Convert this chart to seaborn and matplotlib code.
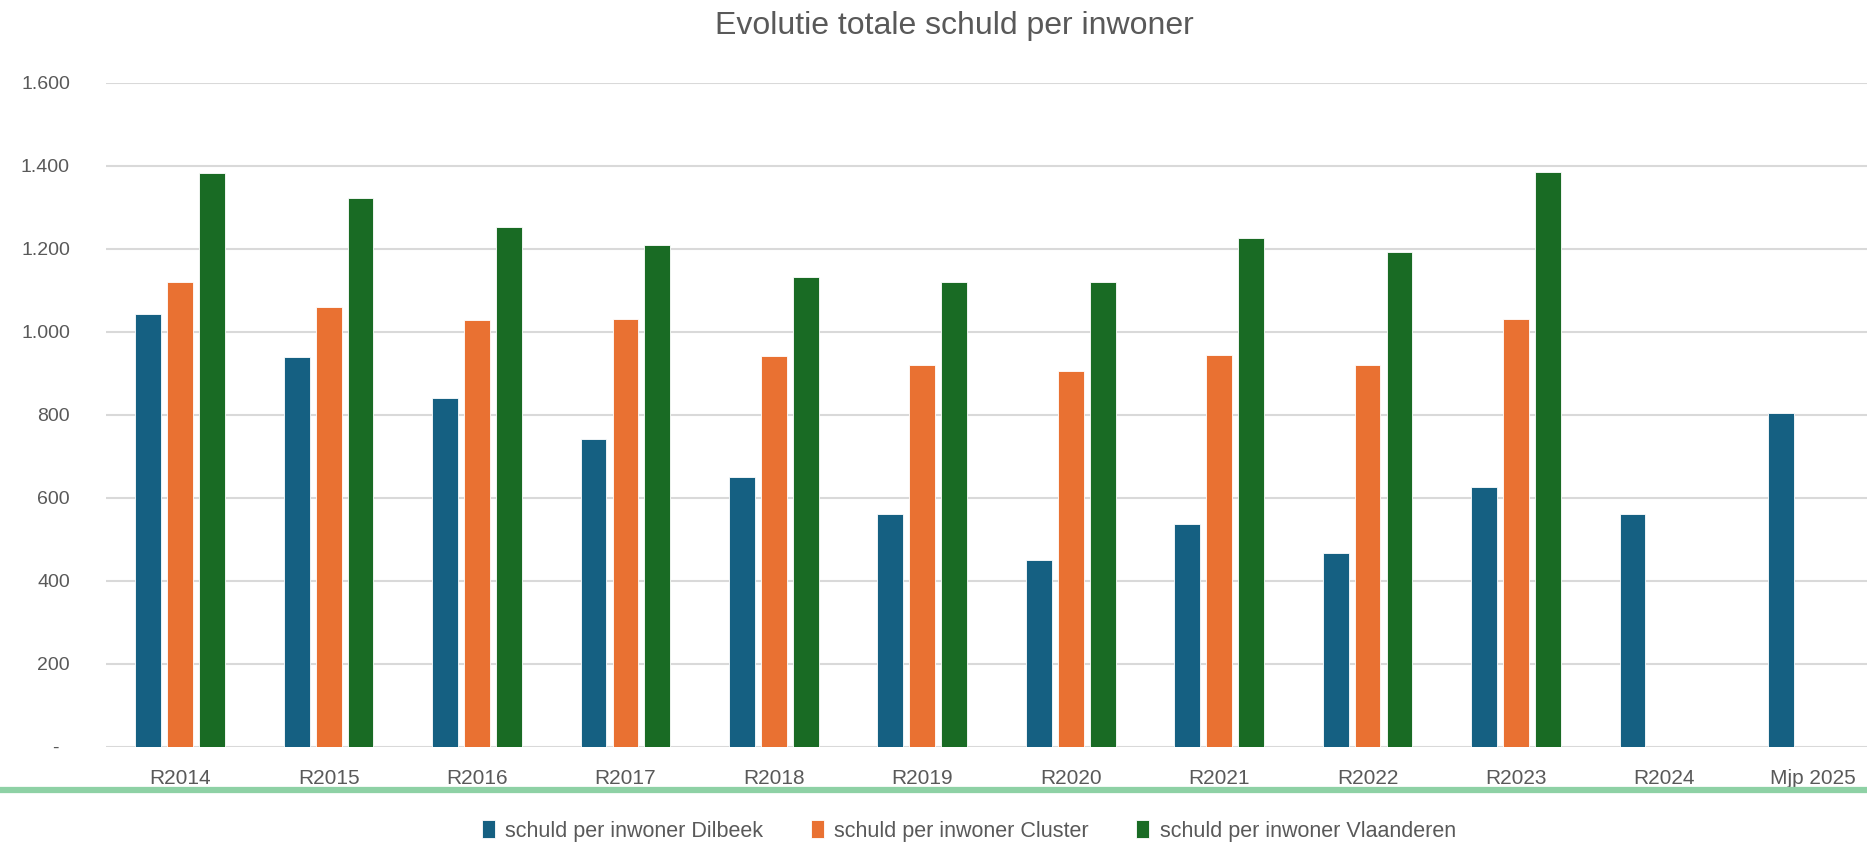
import pandas as pd
import numpy as np
import matplotlib
matplotlib.use('Agg')
import matplotlib.pyplot as plt
from matplotlib.lines import Line2D
from matplotlib.ticker import FuncFormatter
import seaborn as sns

# data
categories = ['R2014', 'R2015', 'R2016', 'R2017', 'R2018', 'R2019',
              'R2020', 'R2021', 'R2022', 'R2023', 'R2024', 'Mjp 2025']
dilbeek = [1044, 940, 840, 741, 649, 560, 451, 537, 468, 626, 560, 804]
cluster = [1120, 1060, 1029, 1031, 942, 919, 905, 945, 919, 1031, np.nan, np.nan]
vlaanderen = [1383, 1323, 1254, 1209, 1132, 1120, 1120, 1227, 1192, 1385, np.nan, np.nan]
series_names = ['schuld per inwoner Dilbeek', 'schuld per inwoner Cluster',
                'schuld per inwoner Vlaanderen']
colors = ['#156082', '#E97132', '#196B24']

df = pd.DataFrame({'jaar': categories * 3,
                   'reeks': sum([[n] * len(categories) for n in series_names], []),
                   'waarde': dilbeek + cluster + vlaanderen})

sns.set_theme(style='white')
plt.rcParams['font.family'] = ['Liberation Sans Narrow', 'Liberation Sans', 'DejaVu Sans']

fig = plt.figure(figsize=(18.67, 8.42), dpi=100)
ax = fig.add_axes([106 / 1867, 95.3 / 842, 1781 / 1867, 663.7 / 842])

sns.barplot(data=df, x='jaar', y='waarde', hue='reeks', palette=colors,
            saturation=1, width=0.645, gap=0.19, errorbar=None, ax=ax,
            edgecolor='white', linewidth=0.6)

ax.set_xlim(-0.5, len(categories) - 0.5)
ax.set_ylim(0, 1600)
ax.set_yticks(range(0, 1601, 200))
ax.yaxis.set_major_formatter(FuncFormatter(
    lambda v, p: '-  ' if v == 0 else f'{int(v):,}'.replace(',', '.')))
ax.grid(axis='y', color='#D9D9D9', linewidth=1.5)
ax.set_axisbelow(True)
for s in ax.spines.values():
    s.set_visible(False)
ax.tick_params(axis='both', length=0, labelsize=14, labelcolor='#595959')
ax.tick_params(axis='x', labelsize=15, pad=16)
ax.tick_params(axis='y', pad=26)
ax.set_xlabel('')
ax.set_ylabel('')

handles, labels = ax.get_legend_handles_labels()
ax.get_legend().remove()
fig.legend(handles, labels, loc='center', bbox_to_anchor=(0.519, 1 - 831 / 842),
           ncol=3, frameon=False, fontsize=15.5, labelcolor='#595959',
           handlelength=0.6, handleheight=0.9, handletextpad=0.5, columnspacing=2.2)

fig.text(0.511, 1 - 26 / 842, 'Evolutie totale schuld per inwoner', ha='center',
         va='center', fontsize=23, color='#595959')

# light green separator line under the axis labels
fig.add_artist(Line2D([0, 1], [1 - 790 / 842] * 2, transform=fig.transFigure,
                      color='#8ED1A5', linewidth=4.5))

fig.savefig('out.png', dpi=100)
